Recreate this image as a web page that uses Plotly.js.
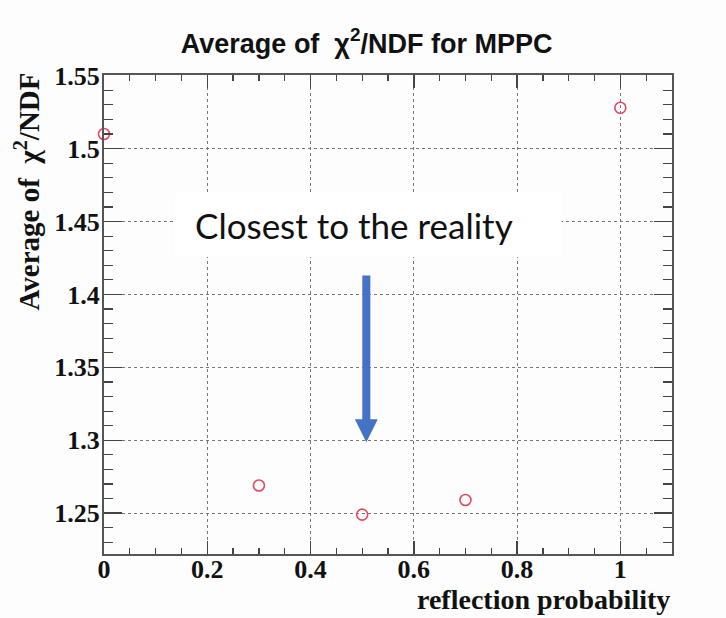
<!DOCTYPE html>
<html>
<head>
<meta charset="utf-8">
<script src="https://cdn.plot.ly/plotly-3.0.1.min.js"></script>
<style>html,body{margin:0;padding:0;background:#fdfdfd;}#chart{width:726px;height:618px;}</style>
</head>
<body>
<div id="chart"></div>
<script>
// Data
const reflectionProbability = [0, 0.3, 0.5, 0.7, 1.0];
const avgChi2NDF = [1.510, 1.269, 1.249, 1.259, 1.528];
const xTickVals = [0, 0.2, 0.4, 0.6, 0.8, 1];
const xTickText = ['0', '0.2', '0.4', '0.6', '0.8', '1'];
const yTickVals = [1.25, 1.3, 1.35, 1.4, 1.45, 1.5, 1.55];
const yTickText = ['1.25', '1.3', '1.35', '1.4', '1.45', '1.5', '1.55'];
const titleText = 'Average of  χ<sup>2</sup>/NDF for MPPC';
const xTitleText = 'reflection probability';
const yTitleText = 'Average of  χ<sup>2</sup>/NDF';
const noteText = 'Closest to the reality';

const serif = 'Liberation Serif, Times New Roman, serif';
const trace = {
  x: reflectionProbability,
  y: avgChi2NDF,
  mode: 'markers',
  type: 'scatter',
  cliponaxis: false,
  marker: {symbol: 'circle-open', size: 11, color: 'rgb(228,72,98)', line: {width: 1.6, color: 'rgb(228,72,98)'}},
  hoverinfo: 'x+y'
};

// arrow (shape in data coordinates)
const ax = 0.508, shaftHalf = 0.0078, headHalf = 0.0222;
const yTop = 1.413, yHead = 1.3144, yTip = 1.2986;
const arrowPath = `M ${ax-shaftHalf} ${yTop} L ${ax+shaftHalf} ${yTop} L ${ax+shaftHalf} ${yHead} L ${ax+headHalf} ${yHead} L ${ax} ${yTip} L ${ax-headHalf} ${yHead} L ${ax-shaftHalf} ${yHead} Z`;

const layout = {
  width: 726, height: 618,
  paper_bgcolor: '#fdfdfd', plot_bgcolor: '#fdfdfd',
  margin: {l: 104, r: 54, t: 75, b: 64},
  showlegend: false,
  title: {text: titleText, x: 0.505, xanchor: 'center', y: 0.93, yanchor: 'middle',
          font: {family: 'Liberation Sans Narrow, Liberation Sans, Arial, sans-serif', size: 27, color: '#111', weight: 'bold'}},
  xaxis: {
    range: [0, 1.1], tickvals: xTickVals, ticktext: xTickText,
    ticks: 'inside', ticklen: 13, tickwidth: 1.5, tickcolor: '#444',
    showline: true, linecolor: '#555', linewidth: 2, mirror: 'ticks',
    showgrid: true, gridcolor: '#777', griddash: 'dot', gridwidth: 1,
    zeroline: false,
    minor: {dtick: 0.05, ticks: 'inside', ticklen: 6, tickwidth: 1.2, tickcolor: '#444', showgrid: false},
    tickfont: {family: serif, size: 26, color: '#111', weight: 'bold'},
    ticklabelstandoff: -9
  },
  yaxis: {
    range: [1.222, 1.5505], tickvals: yTickVals, ticktext: yTickText,
    ticks: 'inside', ticklen: 18, tickwidth: 1.5, tickcolor: '#444',
    showline: true, linecolor: '#555', linewidth: 2, mirror: 'ticks',
    showgrid: true, gridcolor: '#777', griddash: 'dot', gridwidth: 1,
    zeroline: false,
    minor: {dtick: 0.01, ticks: 'inside', ticklen: 9, tickwidth: 1.2, tickcolor: '#444', showgrid: false},
    tickfont: {family: serif, size: 26, color: '#111', weight: 'bold'},
    ticklabelstandoff: -3
  },
  shapes: [
    {type: 'rect', xref: 'x', yref: 'y', x0: 0.137, x1: 0.886, y0: 1.4256, y1: 1.4695,
     fillcolor: '#ffffff', line: {width: 0}, layer: 'above'},
    {type: 'path', xref: 'x', yref: 'y', path: arrowPath, fillcolor: '#4472C4', line: {width: 0}, layer: 'above'}
  ],
  annotations: [
    {text: noteText, xref: 'x', yref: 'y', x: 0.172, y: 1.4476, xanchor: 'left', yanchor: 'middle',
     showarrow: false, font: {family: 'Lato, Carlito, Calibri, sans-serif', size: 35, color: '#111'}},
    {text: xTitleText, xref: 'paper', yref: 'paper', x: 1.0, xanchor: 'right', y: -0.059, yanchor: 'top',
     showarrow: false, font: {family: serif, size: 28, color: '#111', weight: 'bold'}},
    {text: yTitleText, xref: 'paper', yref: 'paper', x: -0.135, xanchor: 'center', y: 1.01, yanchor: 'top',
     textangle: -90, showarrow: false, font: {family: serif, size: 29, color: '#111', weight: 'bold'}}
  ]
};

Plotly.newPlot('chart', [trace], layout, {displayModeBar: false, staticPlot: true});
</script>
</body>
</html>
